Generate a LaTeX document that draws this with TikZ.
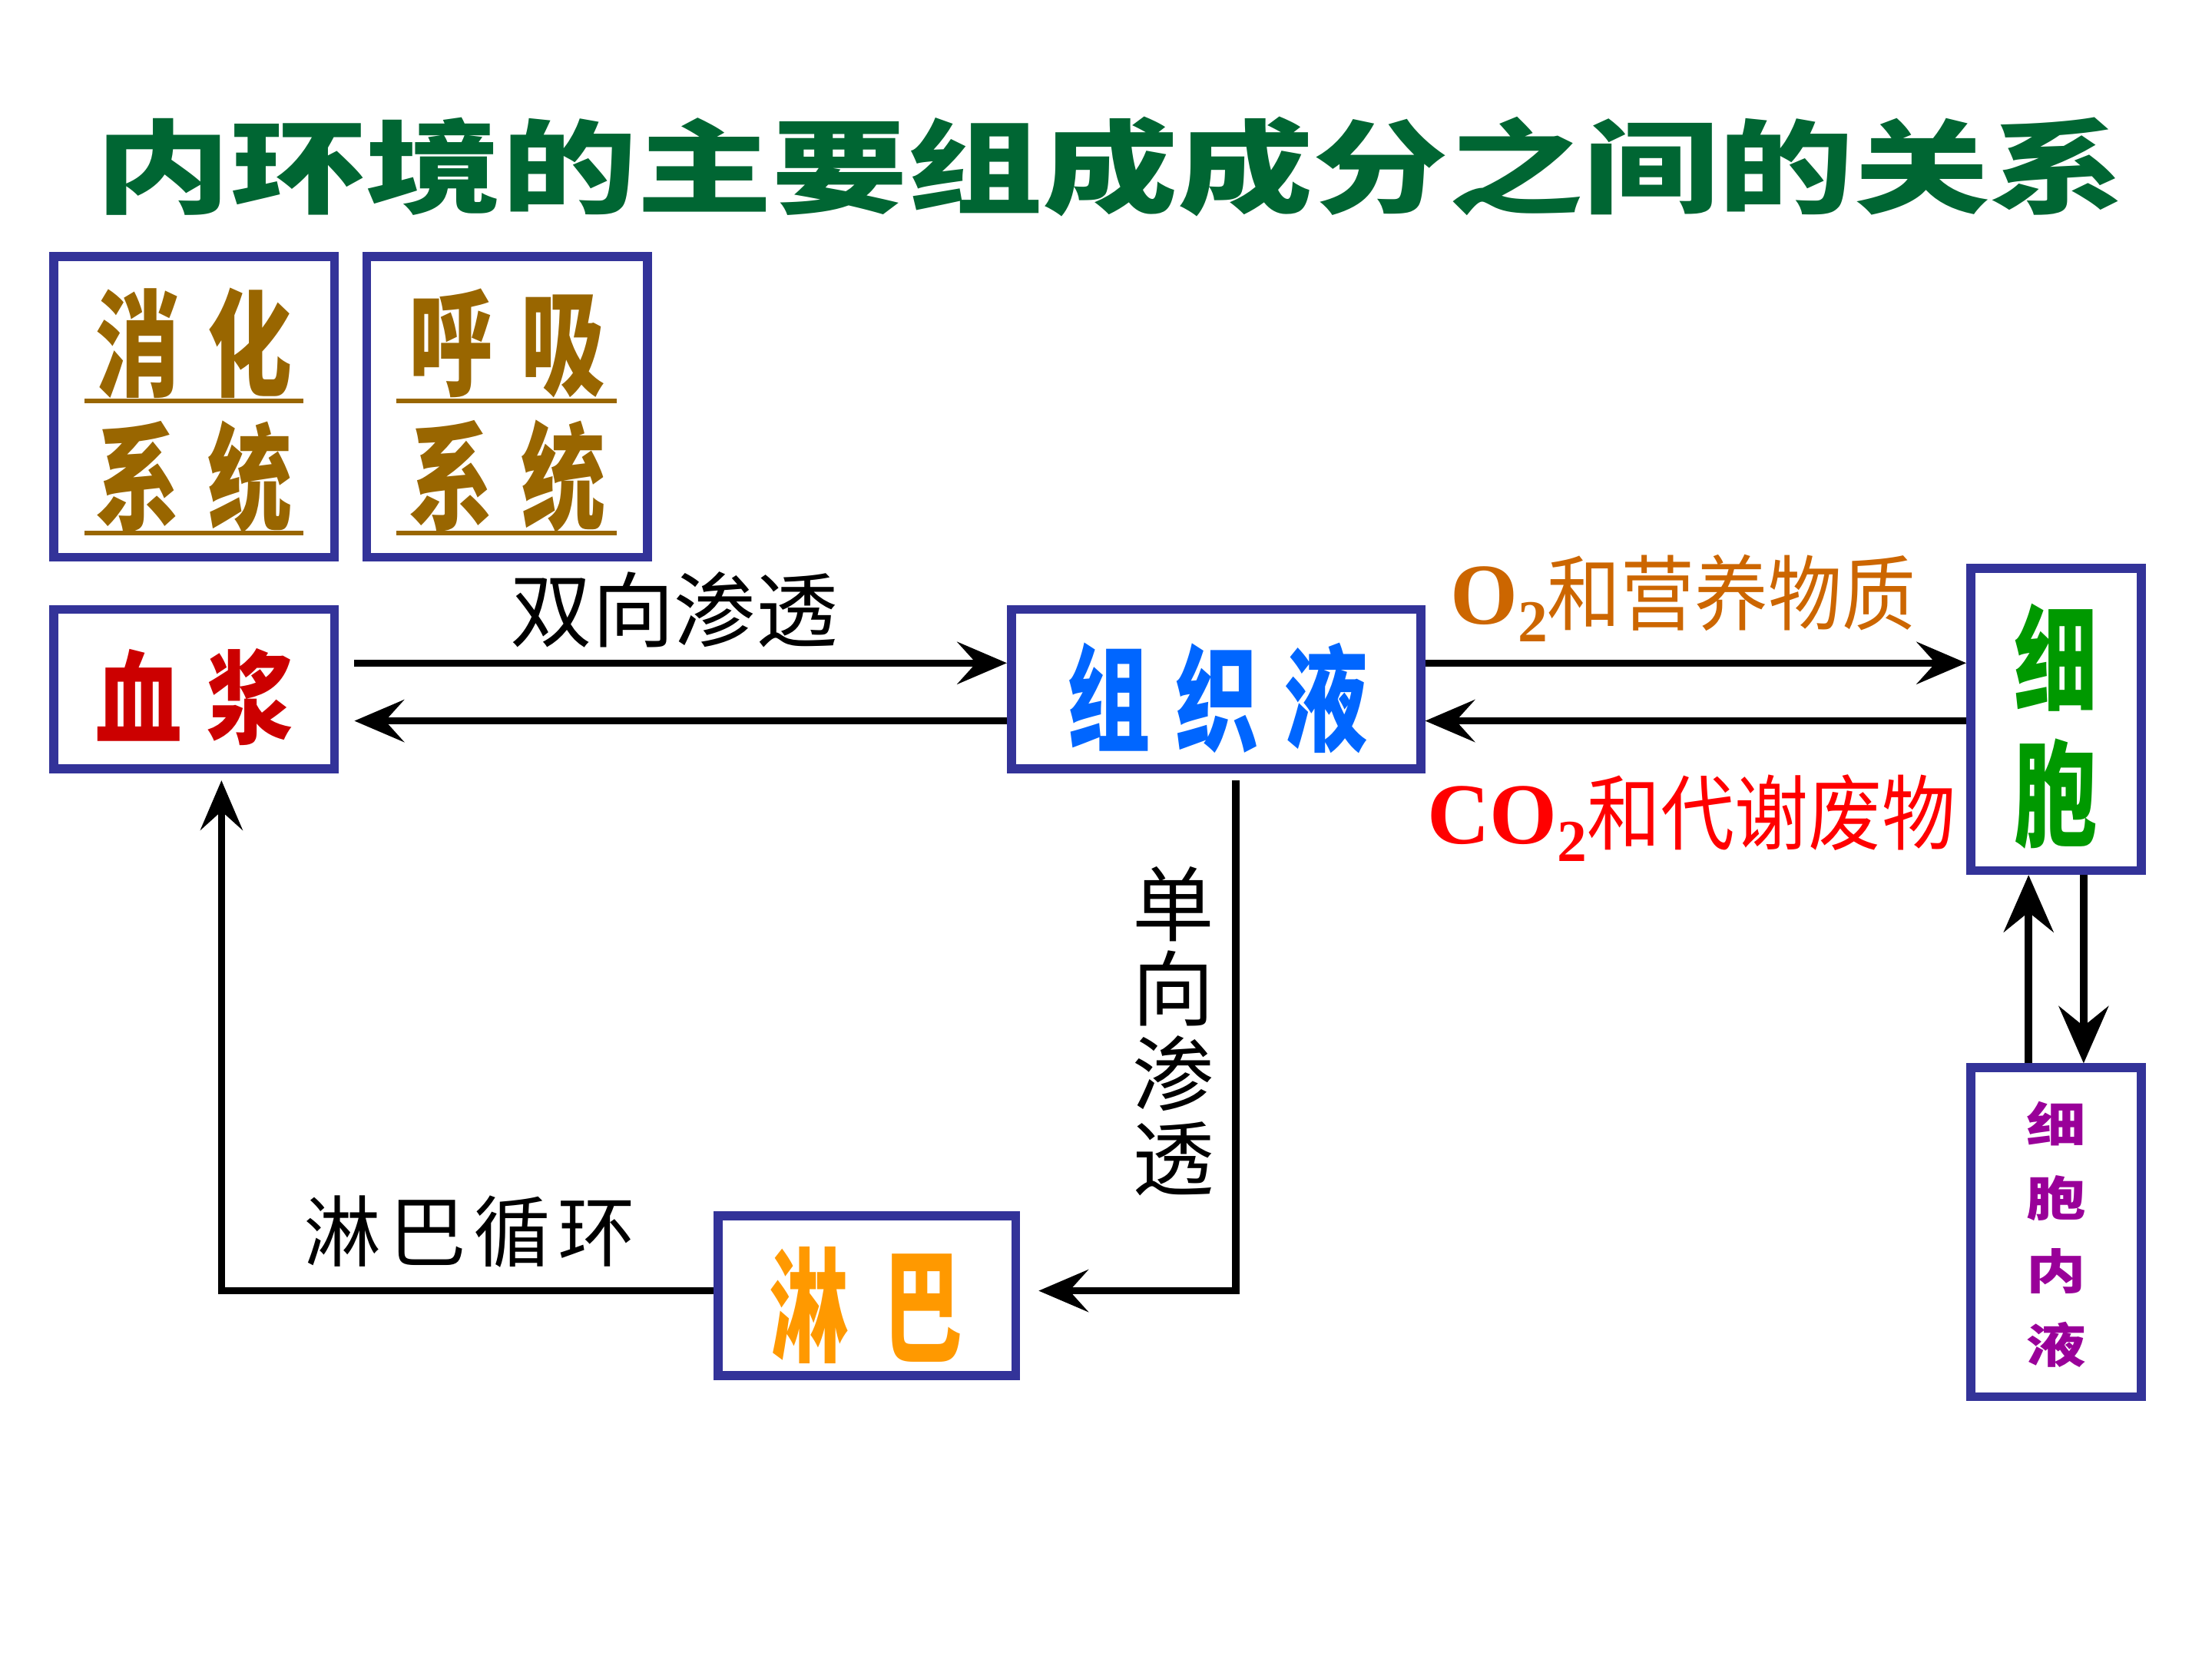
\documentclass[tikz,border=0pt]{standalone}
\usepackage{fontspec}
\usepackage{graphicx}
\setmainfont{Liberation Serif}
\newfontfamily\cjk{Noto Sans CJK SC}
\newfontfamily\latinserif{Liberation Serif}
\usetikzlibrary{arrows.meta,calc}

\definecolor{frame}{RGB}{51,51,153}
\definecolor{titlegreen}{RGB}{0,102,51}
\definecolor{sysbrown}{RGB}{153,102,0}
\definecolor{plasmared}{RGB}{204,0,0}
\definecolor{tissueblue}{RGB}{0,102,255}
\definecolor{cellgreen}{RGB}{0,153,0}
\definecolor{icfpurple}{RGB}{153,0,153}
\definecolor{lymphorange}{RGB}{255,153,0}
\definecolor{oxyorange}{RGB}{204,102,0}
\definecolor{wastered}{RGB}{255,0,0}

\newcommand\fs[2]{\fontsize{#1}{#2}\selectfont}
\newcommand\sx[2]{\scalebox{#1}[1]{#2}}
% chemical formula with a lowered subscript 2, set in a serif face
\newcommand\formula[1]{{\latinserif\bfseries\fs{17.5}{17.5}#1\raisebox{-0.45ex}{\fs{12}{12}2}}}

\tikzset{
  box/.style={draw=frame, line width=1.8pt, fill=white, inner sep=0pt},
  txt/.style={inner sep=0pt, align=center},
  flow/.style={line width=1.45pt, -{Stealth[length=10pt,width=8.5pt,inset=3.8pt]}},
  bigflow/.style={line width=1.6pt, -{Stealth[length=11.5pt,width=10pt,inset=4pt]}},
  uline/.style={draw=sysbrown, line width=0.9pt},
}

\begin{document}
\begin{tikzpicture}[x=0.01cm, y=-0.01cm]
\useasboundingbox[fill=white] (0,0) rectangle (1568,1176);

% title
\node[txt, text=titlegreen, font=\cjk\bfseries\fs{20.5}{24}] (title) at (787,118)
  {\sx{1.33}{内环境的主要组成成分之间的关系}};

% boxes
\node[box, minimum width=1.99cm, minimum height=2.13cm] (dig)    at (137.5,288.5) {};
\node[box, minimum width=1.99cm, minimum height=2.13cm] (resp)   at (359.5,288.5) {};
\node[box, minimum width=1.99cm, minimum height=1.13cm] (plasma) at (137.5,488.5) {};
\node[box, minimum width=2.90cm, minimum height=1.13cm] (tissue) at (862,488.5) {};
\node[box, minimum width=1.21cm, minimum height=2.14cm] (cell)   at (1457.5,510) {};
\node[box, minimum width=1.21cm, minimum height=2.33cm] (icf)    at (1457.5,873.5) {};
\node[box, minimum width=2.11cm, minimum height=1.13cm] (lymph)  at (614.5,918.5) {};

% box texts
\node[txt, text=sysbrown, font=\cjk\bfseries\fs{23.3}{27}] (digt) at (137.5,291)
  {\sx{0.73}{消}\hspace{5.7pt}\sx{0.73}{化}\\[0pt]\sx{0.73}{系}\hspace{5.7pt}\sx{0.73}{统}};
\node[txt, text=sysbrown, font=\cjk\bfseries\fs{23.3}{27}] (respt) at (359.5,291)
  {\sx{0.73}{呼}\hspace{5.7pt}\sx{0.73}{吸}\\[0pt]\sx{0.73}{系}\hspace{5.7pt}\sx{0.73}{统}};
\draw[uline] (60,284) -- (215,284);
\draw[uline] (60,378) -- (215,378);
\draw[uline] (281,284) -- (437,284);
\draw[uline] (281,378) -- (437,378);

\node[txt, text=plasmared, font=\cjk\bfseries\fs{20.5}{24}] (plasmat) at (138,494)
  {\sx{0.85}{血}\hspace{5.1pt}\sx{0.85}{浆}};
\node[txt, text=tissueblue, font=\cjk\bfseries\fs{23.3}{27}] (tissuet) at (863,495)
  {\sx{0.72}{组}\hspace{5.1pt}\sx{0.72}{织}\hspace{5.1pt}\sx{0.72}{液}};
\node[txt, text=cellgreen, font=\cjk\bfseries\fs{23.3}{27}] (cellt) at (1457.5,515)
  {\sx{0.72}{细}\\\sx{0.72}{胞}};
\node[txt, text=icfpurple, font=\cjk\bfseries\fs{12}{14.8}] (icft) at (1457.5,875)
  {\scalebox{1}[0.8]{细}\\\scalebox{1}[0.8]{胞}\\\scalebox{1}[0.8]{内}\\\scalebox{1}[0.8]{液}};
\node[txt, text=lymphorange, font=\cjk\bfseries\fs{24.8}{28}] (lympht) at (614,925)
  {\sx{0.64}{淋}\hspace{7pt}\sx{0.64}{巴}};

% connectors
\draw[flow] ([xshift=0.11cm,yshift=0.185cm]plasma.east) -- ([yshift=0.185cm]plasma.east -| tissue.west);
\draw[flow] ([yshift=-0.225cm]plasma.east -| tissue.west) -- ([xshift=0.11cm,yshift=-0.225cm]plasma.east);
\draw[flow] ([yshift=0.185cm]plasma.east -| tissue.east) -- ([yshift=0.185cm]plasma.east -| cell.west);
\draw[flow] ([yshift=-0.225cm]plasma.east -| cell.west) -- ([yshift=-0.225cm]plasma.east -| tissue.east);
\draw[flow] ([xshift=0.14cm,yshift=-0.05cm]tissue.south) |- ([xshift=0.13cm,yshift=0.035cm]lymph.east);
\draw[flow] ([yshift=0.035cm]lymph.west) -| ([xshift=0.195cm,yshift=-0.05cm]plasma.south);
\draw[bigflow] ([xshift=-0.195cm]icf.north) -- ([xshift=-0.195cm]cell.south);
\draw[bigflow] ([xshift=0.195cm]cell.south) -- ([xshift=0.195cm]icf.north);

% connector labels
\node[txt, font=\cjk\fs{16.5}{17}] (bidir) at (478,432) {双向渗透};
\node[txt, text=oxyorange, font=\cjk\fs{16.5}{17}] (supply) at (1193,424)
  {\formula{O}\sx{0.9}{和营养物质}};
\node[txt, text=wastered, font=\cjk\fs{16.5}{17}] (waste) at (1199,580)
  {\formula{CO}\sx{0.9}{和代谢废物}};
\node[txt, font=\cjk\fs{16.5}{17.1}] (unidir) at (832,731) {单\\向\\渗\\透};
\node[txt, font=\cjk\fs{15.6}{17}] (lymphcirc) at (333,873)
  {淋\hspace{1.5pt}巴\hspace{1.5pt}循\hspace{1.5pt}环};
\end{tikzpicture}
\end{document}
